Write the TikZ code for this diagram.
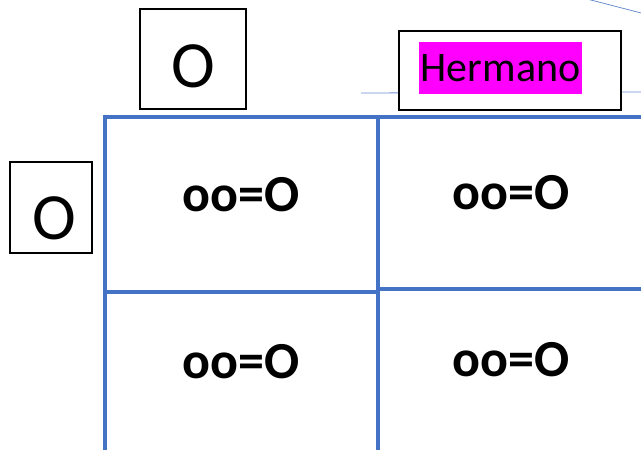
\documentclass[tikz,border=0pt]{standalone}
\usepackage{fontspec}
\setmainfont{Carlito}
\begin{document}
\begin{tikzpicture}[x=1pt,y=-1pt,
  gridline/.style={draw=gridblue,line width=4pt},
  thinline/.style={draw=gridblue!80,line width=0.8pt},
  labelbox/.style={draw=black,line width=2pt,fill=white,inner sep=0pt},
  celltext/.style={font=\fontsize{52}{52}\selectfont\bfseries},
  bigO/.style={font=\fontsize{66}{66}\selectfont}]
\definecolor{gridblue}{HTML}{4472C4}
\definecolor{hlmagenta}{HTML}{FF00FF}
\useasboundingbox (0,0) rectangle (641,450);
\clip (0,0) rectangle (641,450);
% thin connector lines
\coordinate (la) at (361,93);
\coordinate (lb) at (645,92);
\coordinate (da) at (587,-1);
\coordinate (db) at (645,14);
\draw[thinline] (la) -- (lb);
\draw[thinline] (da) -- (db);
% grid
\draw[gridline] (105,117) rectangle (660,470);
\draw[gridline] (378,117) -- (378,470);
\draw[gridline] (105,292) -- (378,292);
\draw[gridline] (378,289) -- (660,289);
% cell texts
\node[celltext] (c11) at (241,195) {oo=O};
\node[celltext] (c12) at (511,193) {oo=O};
\node[celltext] (c21) at (241,362) {oo=O};
\node[celltext] (c22) at (511,360) {oo=O};
% label boxes
\node[labelbox,minimum width=106pt,minimum height=100pt] (otop) at (193,59) {};
\node[bigO] (otoptxt) at (193,66) {O};
\node[labelbox,minimum width=82pt,minimum height=91pt] (oleft) at (51,207.5) {};
\node[bigO] (olefttxt) at (54,218) {O};
\node[labelbox,minimum width=222pt,minimum height=79pt] (herm) at (510,70.5) {};
\fill[hlmagenta] (419,42) rectangle (582,94);
\node[font=\fontsize{42}{42}\selectfont] (hermtxt) at (500.5,68) {Hermano};
\end{tikzpicture}
\end{document}
